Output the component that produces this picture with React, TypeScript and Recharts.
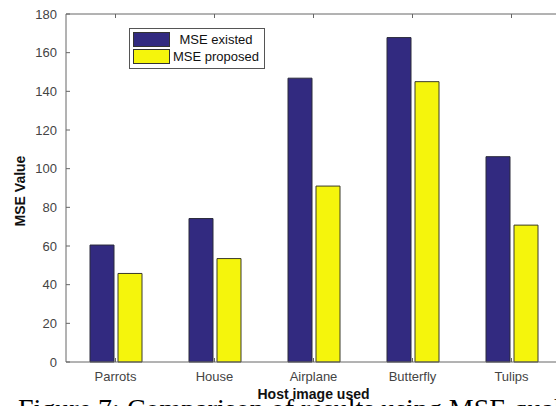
import React from 'react';
import { BarChart, Bar, XAxis, YAxis, Legend } from 'recharts';

const categories = ['Parrots', 'House', 'Airplane', 'Butterfly', 'Tulips'];
const mseExisted = [60.5, 74.2, 146.8, 167.8, 106.2];
const mseProposed = [45.8, 53.5, 91.0, 145.0, 70.8];
const yTicks = [0, 20, 40, 60, 80, 100, 120, 140, 160, 180];
const seriesNames = ['MSE existed', 'MSE proposed'];
const seriesColors = ['#322a80', '#f5f50c'];
const xTitle = 'Host image used';
const yTitle = 'MSE Value';
const caption = 'Figure 7: Comparison of results using MSE quality';

const data = categories.map((name, i) => ({
  name,
  existed: mseExisted[i],
  proposed: mseProposed[i],
}));

const FONT = '"Liberation Sans", Arial, sans-serif';
const AXIS = '#666';
const TICKTXT = '#444';

const BottomTick = (props: any) => {
  const { x, y, payload } = props;
  return (
    <g>
      <line x1={x} x2={x} y1={y} y2={y - 4} stroke={AXIS} />
      <text x={x} y={y + 19} textAnchor="middle" fontFamily={FONT} fontSize={13} fill={TICKTXT}>
        {payload.value}
      </text>
    </g>
  );
};

const TopTick = (props: any) => {
  const { x, y } = props;
  return <line x1={x} x2={x} y1={y} y2={y + 4} stroke={AXIS} />;
};

const LeftTick = (props: any) => {
  const { x, y, payload } = props;
  return (
    <g>
      <line x1={x} x2={x + 4} y1={y} y2={y} stroke={AXIS} />
      <text x={x - 9} y={y + 4.5} textAnchor="end" fontFamily={FONT} fontSize={13} fill={TICKTXT}>
        {payload.value}
      </text>
    </g>
  );
};

const RightTick = (props: any) => {
  const { x, y } = props;
  return <line x1={x} x2={x - 5} y1={y} y2={y} stroke={AXIS} />;
};

const LegendBox = () => (
  <div
    style={{
      border: '1px solid #555',
      background: '#fff',
      width: 131,
      padding: '2px 0 3px 3px',
      fontFamily: FONT,
      fontSize: 13,
      color: '#111',
      boxSizing: 'content-box',
    }}
  >
    {seriesNames.map((n, i) => (
      <div key={n} style={{ display: 'flex', alignItems: 'center', height: 17 }}>
        <div
          style={{
            width: 35,
            height: 13,
            background: seriesColors[i],
            border: '1px solid #333',
          }}
        />
        <div style={{ width: 92, textAlign: 'center', whiteSpace: 'nowrap' }}>{n}</div>
      </div>
    ))}
  </div>
);

export default function App() {
  return (
    <div
      style={{
        position: 'absolute',
        left: 0,
        top: 0,
        width: 556,
        height: 406,
        overflow: 'hidden',
        background: '#fff',
      }}
    >
      <BarChart
        width={600}
        height={406}
        data={data}
        margin={{ top: 0, right: 29, bottom: 0, left: 0 }}
        barSize={24}
        barGap={4}
      >
        <XAxis
          xAxisId="bottom"
          dataKey="name"
          orientation="bottom"
          height={44}
          tickLine={false}
          tickSize={0}
          tickMargin={0}
          axisLine={{ stroke: AXIS }}
          tick={<BottomTick />}
          interval={0}
          label={{
            content: (p: any) => {
              const vb = p.viewBox;
              return (
                <text
                  x={vb.x + vb.width / 2}
                  y={vb.y + 37}
                  textAnchor="middle"
                  fontFamily={FONT}
                  fontWeight="bold"
                  fontSize={14}
                  fill="#111"
                >
                  {xTitle}
                </text>
              );
            },
          }}
        />
        <XAxis
          xAxisId="top"
          dataKey="name"
          orientation="top"
          height={14}
          tickLine={false}
          tickSize={0}
          tickMargin={0}
          axisLine={{ stroke: AXIS }}
          tick={<TopTick />}
          interval={0}
        />
        <YAxis
          yAxisId="left"
          domain={[0, 180]}
          ticks={yTicks}
          width={66}
          tickLine={false}
          tickSize={0}
          tickMargin={0}
          axisLine={{ stroke: AXIS }}
          tick={<LeftTick />}
          interval={0}
          label={{
            content: (p: any) => {
              const vb = p.viewBox;
              const cx = vb.x + 20;
              const cy = vb.y + vb.height / 2 + 3;
              return (
                <text
                  x={cx}
                  y={cy}
                  transform={`rotate(-90, ${cx}, ${cy})`}
                  textAnchor="middle"
                  dominantBaseline="central"
                  fontFamily={FONT}
                  fontWeight="bold"
                  fontSize={14}
                  fill="#111"
                >
                  {yTitle}
                </text>
              );
            },
          }}
        />
        <YAxis
          yAxisId="right"
          orientation="right"
          domain={[0, 180]}
          ticks={yTicks}
          width={10}
          tickLine={false}
          tickSize={0}
          tickMargin={0}
          axisLine={{ stroke: AXIS }}
          tick={<RightTick />}
          interval={0}
        />
        <Legend
          layout="vertical"
          align="center"
          verticalAlign="middle"
          content={<LegendBox />}
          wrapperStyle={{ left: 129, top: 28, width: 'auto', height: 'auto' }}
        />
        <Bar
          xAxisId="bottom"
          yAxisId="left"
          dataKey="existed"
          name={seriesNames[0]}
          fill={seriesColors[0]}
          stroke="#2a2a3a"
          strokeWidth={1}
          isAnimationActive={false}
        />
        <Bar
          xAxisId="bottom"
          yAxisId="left"
          dataKey="proposed"
          name={seriesNames[1]}
          fill={seriesColors[1]}
          stroke="#3a3a2a"
          strokeWidth={1}
          isAnimationActive={false}
        />
      </BarChart>
      <svg
        width={556}
        height={406}
        style={{ position: 'absolute', left: 0, top: 0, pointerEvents: 'none' }}
      >
        <text x={18} y={418} fontFamily='"Liberation Serif", "Times New Roman", serif' fontSize={28} fill="#000">
          {caption}
        </text>
      </svg>
    </div>
  );
}
